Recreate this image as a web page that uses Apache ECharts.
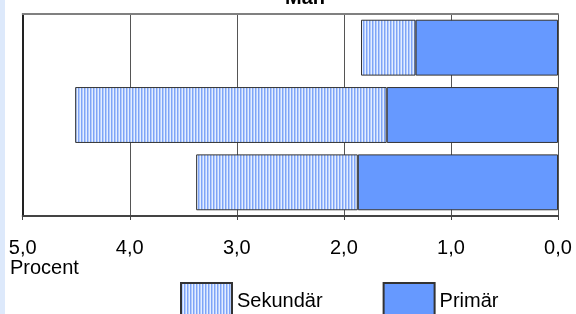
<!DOCTYPE html>
<html>
<head>
<meta charset="utf-8">
<script src="https://cdn.jsdelivr.net/npm/echarts@6/dist/echarts.min.js"></script>
<style>
  html, body { margin: 0; padding: 0; background: #fff; }
  #strip { position: absolute; left: 0; top: 0; width: 5px; height: 314px; background: #dde9fb; }
  #chart { width: 576px; height: 314px; }
</style>
</head>
<body>
<div id="strip"></div>
<div id="chart"></div>
<script>
// data, top bar first
var categories = ['1', '2', '3'];
var primar = [1.33, 1.60, 1.87];
var sekundar = [0.51, 2.91, 1.51];
var xTicks = ['5,0', '4,0', '3,0', '2,0', '1,0', '0,0'];

var font = 'Liberation Sans, Arial, sans-serif';

// vertical stripe fill for Sekundär
var cv = document.createElement('canvas');
cv.width = 3; cv.height = 4;
var ctx = cv.getContext('2d');
var stripes = ['#7ea4f7', '#b3cbfc', '#e4eeff'];
stripes.forEach(function (c, i) {
  ctx.fillStyle = c;
  ctx.fillRect(i, 0, 1, 4);
});

var chart = echarts.init(document.getElementById('chart'));

var option = {
  animation: false,
  textStyle: { fontFamily: font },
  grid: { left: 22.7, right: 18, top: 14, bottom: 98 },
  legend: {
    data: ['Sekundär', 'Primär'],
    left: 180,
    top: 282,
    padding: 0,
    itemWidth: 51,
    itemHeight: 36,
    itemGap: 60,
    icon: 'rect',
    textStyle: { fontSize: 20, color: '#000', fontFamily: font }
  },
  xAxis: [{
    type: 'value',
    inverse: true,
    min: 0,
    max: 5,
    interval: 1,
    axisLine: { show: true, lineStyle: { color: '#444', width: 2 } },
    axisTick: { show: true, length: 4, lineStyle: { color: '#444' } },
    splitLine: { show: true, lineStyle: { color: '#555', width: 1 } },
    axisLabel: {
      margin: 22,
      fontSize: 20,
      color: '#000',
      fontFamily: font,
      formatter: function (v) { return xTicks[5 - Math.round(v)]; }
    }
  }, {
    type: 'value',
    position: 'top',
    inverse: true,
    min: 0,
    max: 5,
    axisLine: { show: true, lineStyle: { color: '#808080', width: 2 } },
    axisTick: { show: false },
    splitLine: { show: false },
    axisLabel: { show: false }
  }],
  yAxis: {
    type: 'category',
    inverse: true,
    data: categories,
    axisLine: { show: true, onZero: false, lineStyle: { color: '#222', width: 2 } },
    axisTick: { show: false },
    axisLabel: { show: false }
  },
  graphic: [
    {
      type: 'text', left: 285, top: -12,
      style: { text: 'Män', fontSize: 20, fontWeight: 'bold', fontFamily: font, fill: '#000' }
    },
    {
      type: 'text', x: 10, y: 268,
      style: { text: 'Procent', fontSize: 20, fontFamily: font, fill: '#000', verticalAlign: 'middle' }
    }
  ],
  series: [
    {
      name: 'Primär',
      type: 'bar',
      stack: 'tot',
      barCategoryGap: '17%',
      data: primar,
      itemStyle: { color: '#6699ff', borderColor: '#333', borderWidth: 1 }
    },
    {
      name: 'Sekundär',
      type: 'bar',
      stack: 'tot',
      data: sekundar,
      itemStyle: {
        color: { image: cv, repeat: 'repeat' },
        borderColor: '#333',
        borderWidth: 1
      }
    }
  ]
};

chart.setOption(option);
</script>
</body>
</html>
